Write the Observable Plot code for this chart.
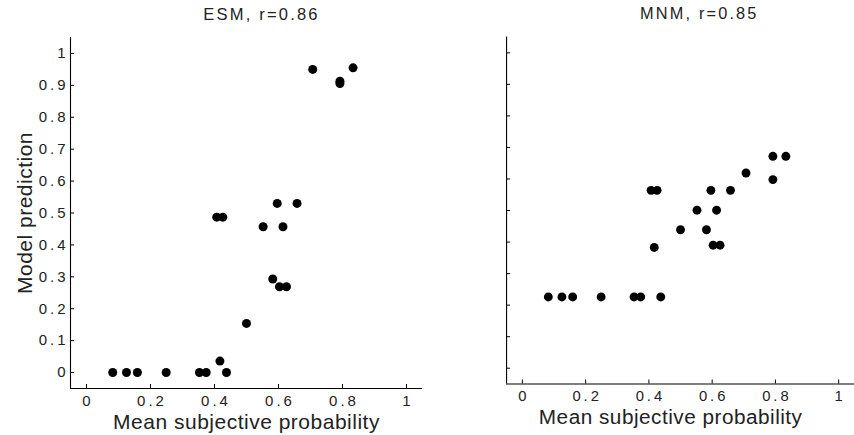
<!DOCTYPE html>
<html>
<head>
<meta charset="utf-8">
<script src="https://cdn.jsdelivr.net/npm/d3@7"></script>
<script src="https://cdn.jsdelivr.net/npm/@observablehq/plot@0.6"></script>
<style>
  html, body { margin: 0; padding: 0; background: #fff; }
  #wrap { position: relative; width: 854px; height: 435px; overflow: hidden; }
  #left, #right { position: absolute; top: 0; }
  #left { left: 0; }
  #right { left: 427px; }
  g[aria-label="x-axis tick label"] text, g[aria-label="y-axis tick label"] text { letter-spacing: 3px; }
  .ttl text { letter-spacing: 2.2px; }
  .lbl text { letter-spacing: 0.5px; }
</style>
</head>
<body>
<div id="wrap"><div id="left"></div><div id="right"></div></div>
<script>
// Data
const subjective = [0.082, 0.125, 0.159, 0.249, 0.353, 0.374, 0.4375, 0.417, 0.5, 0.582, 0.603, 0.625, 0.552, 0.614, 0.407, 0.426, 0.596, 0.658, 0.707, 0.792, 0.792, 0.833];
const esmPred =    [0, 0, 0, 0, 0, 0, 0, 0.036, 0.154, 0.293, 0.269, 0.269, 0.457, 0.457, 0.487, 0.487, 0.530, 0.530, 0.950, 0.913, 0.906, 0.955];
const mnmPred =    [0.226, 0.226, 0.226, 0.226, 0.226, 0.226, 0.226, 0.383, 0.439, 0.439, 0.390, 0.390, 0.501, 0.501, 0.564, 0.564, 0.564, 0.564, 0.619, 0.672, 0.598, 0.672];
const xTicks = [0, 0.2, 0.4, 0.6, 0.8, 1];
const yTicks = [0, 0.1, 0.2, 0.3, 0.4, 0.5, 0.6, 0.7, 0.8, 0.9, 1];
const xDomain = [-0.05, 1.05];
const yDomain = [-0.05, 1.05];
const titles = ["ESM, r=0.86", "MNM, r=0.85"];
const xLabel = "Mean subjective probability";
const yLabel = "Model prediction";

const rows = subjective.map((x, i) => ({x, esm: esmPred[i], mnm: mnmPred[i]}));
const font = "'Liberation Sans', Arial, Helvetica, sans-serif";

function panel({key, title, width, marginLeft, marginRight, showYLabels, titleDx, labelDx}) {
  const marginTop = 37, marginBottom = 47, height = 435;
  const plotW = width - marginLeft - marginRight;
  const plotH = height - marginTop - marginBottom;
  const marks = [
    Plot.ruleY([yDomain[0]], {stroke: "black", strokeWidth: 1.1}),
    Plot.ruleX([xDomain[0]], {stroke: "black", strokeWidth: 1.1}),
    Plot.tickY(yTicks, {y: d => d, insetRight: plotW - 4, stroke: "black"}),
    Plot.tickX(xTicks, {x: d => d, insetTop: plotH - 4, stroke: "black"}),
    Plot.axisX({ticks: xTicks, tickSize: 0, tickPadding: 6.5, fontSize: 15, dx: 1.5, label: null, tickFormat: d => String(d)}),
    Plot.dot(rows, {x: "x", y: key, r: 4.5, fill: "black", stroke: null}),
    Plot.text([title], {frameAnchor: "top", textAnchor: "middle", dx: titleDx, dy: -18, lineAnchor: "bottom", fontSize: 16.5, className: "ttl"}),
    Plot.text([xLabel], {frameAnchor: "bottom", textAnchor: "middle", dy: 40, lineAnchor: "bottom", fontSize: 21, dx: labelDx, className: "lbl"})
  ];
  if (showYLabels) {
    marks.push(Plot.axisY({ticks: yTicks, tickSize: 0, tickPadding: 2, fontSize: 15, label: null, tickFormat: d => String(d)}));
    marks.push(Plot.text([yLabel], {frameAnchor: "left", textAnchor: "middle", dx: -39, rotate: -90, lineAnchor: "bottom", fontSize: 21, className: "lbl"}));
  }
  return Plot.plot({
    width, height, marginLeft, marginRight, marginTop, marginBottom,
    x: {domain: xDomain, axis: null},
    y: {domain: yDomain, axis: null},
    style: {fontFamily: font, color: "#222", background: "white", overflow: "visible"},
    marks
  });
}

document.getElementById("left").append(panel({key: "esm", title: titles[0], width: 427, marginLeft: 70, marginRight: 5, showYLabels: true, titleDx: 15, labelDx: 0}));
document.getElementById("right").append(panel({key: "mnm", title: titles[1], width: 432, marginLeft: 80, marginRight: 0, showYLabels: false, titleDx: 19, labelDx: -10}));
</script>
</body>
</html>
